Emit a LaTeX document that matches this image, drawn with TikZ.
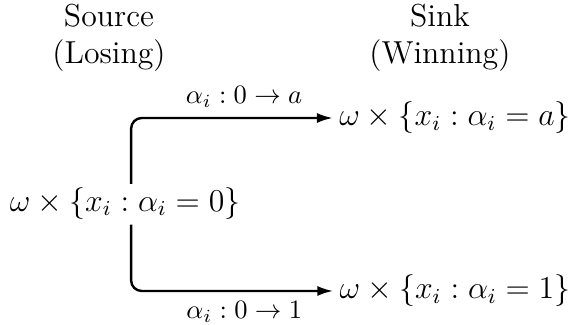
\documentclass[tikz,border=0pt]{standalone}
\usepackage{amsmath}
\usepackage{amssymb}
\usetikzlibrary{arrows.meta}

\begin{document}
\begin{tikzpicture}[
  line width=0.9pt,  state/.style={font=\large,inner sep=2pt},  heading/.style={font=\large,align=center,inner sep=0pt},  flow/.style={-{Latex[length=6pt,width=3.8pt]},rounded corners=4pt},  move/.style={font=\normalsize}
]
  \useasboundingbox (0,0) rectangle (7.612,4.297);
  \node[heading] (src) at (1.445,3.792) {Source\\(Losing)};
  \node[heading] (snk) at (5.834,3.792) {Sink\\(Winning)};
  \node[state] (s0) at (1.658,1.604) {$\omega\times\{x_i:\alpha_i=0\}$};
  \node[state] (sa) at (6.033,2.732) {$\omega\times\{x_i:\alpha_i=a\}$};
  \node[state] (s1) at (6.033,0.438) {$\omega\times\{x_i:\alpha_i=1\}$};
  \draw[flow] ([xshift=2.3pt,yshift=-1.2pt]s0.north) |- node[move,pos=0.78,above] {$\alpha_i:0\to a$} (sa.west);
  \draw[flow] ([xshift=2.3pt,yshift=0.3pt]s0.south) |- node[move,pos=0.78,below] {$\alpha_i:0\to 1$} (s1.west);
\end{tikzpicture}
\end{document}
